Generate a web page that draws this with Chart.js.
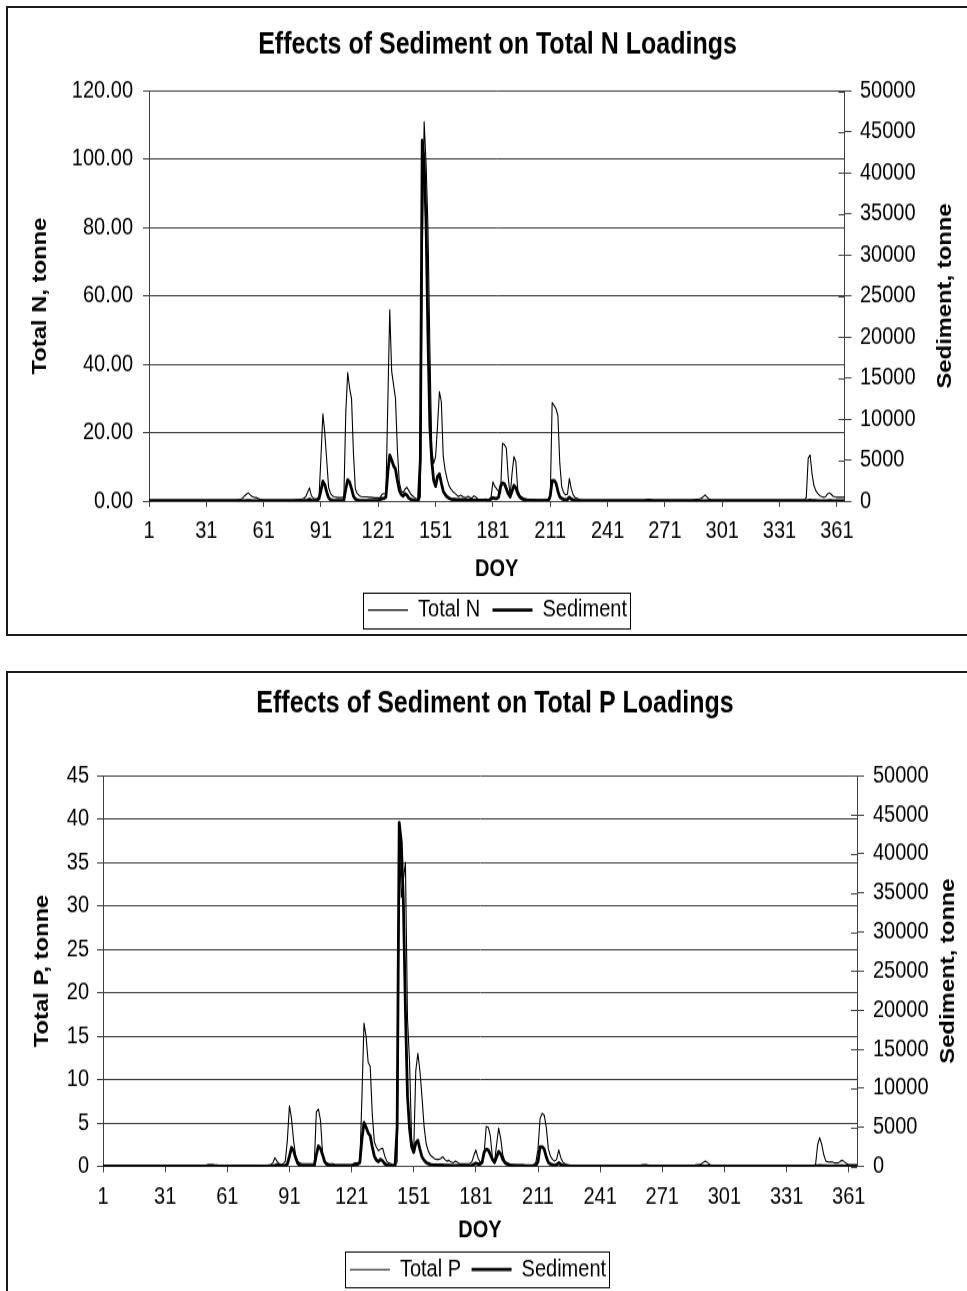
<!DOCTYPE html>
<html>
<head>
<meta charset="utf-8">
<title>Effects of Sediment on Total N and Total P Loadings</title>
<script src="https://cdn.jsdelivr.net/npm/chart.js@4.4.1/dist/chart.umd.min.js"></script>
<style>
  body { margin: 0; width: 967px; height: 1291px; overflow: hidden; background: #fff; position: relative; }
  .frame { position: absolute; left: 6px; width: 1000px; border: 2px solid #1a1a1a; }
  /* the source picture is stretched vertically, so the charts are too */
  .wrap { position: absolute; left: 0; width: 967px; transform: scaleY(1.19); transform-origin: 0 0; }
</style>
</head>
<body>
<div class="frame" style="top:6px;height:626px"></div>
<div class="frame" style="top:671px;height:700px"></div>
<div class="wrap" style="top:0;height:538px"><canvas id="chartN"></canvas></div>
<div class="wrap" style="top:660px;height:536px"><canvas id="chartP"></canvas></div>
<script>
// day of year, 1..365
const doy = [];
for (let d = 1; d <= 365; d++) doy.push(d);
const xTickDays = [1, 31, 61, 91, 121, 151, 181, 211, 241, 271, 301, 331, 361];

// Total N, tonne
const totalN = [
  0.3,0.3,0.3,0.3,0.3,0.3,0.3,0.3,0.3,0.3,      // 1-10
  0.3,0.3,0.3,0.3,0.3,0.3,0.3,0.3,0.3,0.3,      // 11-20
  0.3,0.3,0.3,0.3,0.3,0.3,0.3,0.3,0.3,0.3,      // 21-30
  0.3,0.3,0.3,0.3,0.3,0.3,0.3,0.3,0.3,0.3,      // 31-40
  0.3,0.3,0.3,0.3,0.3,0.3,0.3,0.4,0.5,0.8,      // 41-50
  1.5,2.0,2.4,1.8,1.3,1.1,1.0,0.8,0.5,0.4,      // 51-60
  0.3,0.3,0.3,0.3,0.3,0.3,0.3,0.3,0.3,0.3,      // 61-70
  0.3,0.3,0.3,0.3,0.3,0.3,0.3,0.4,0.4,0.5,      // 71-80
  0.6,0.8,1.2,2.5,3.8,1.5,0.8,0.6,0.8,1.2,      // 81-90
  13,25.5,20,12,4.0,2.2,1.5,1.2,1.1,1.0,        // 91-100
  1.0,1.0,1.2,26,37.6,33,30,14,3.5,2.2,         // 101-110
  1.6,1.3,1.2,1.2,1.2,1.1,1.1,1.0,0.9,0.9,      // 111-120
  0.9,1.0,2.0,2.2,2.2,29,56,38,34,30,           // 121-130
  15,5.5,3.0,2.5,3.5,4.0,3.0,2.0,1.5,1.0,       // 131-140
  0.6,0.5,1.0,70,111,99,80,45,15,11,            // 141-150
  13,22,32,29,13,9.0,6.5,4.5,3.5,2.8,           // 151-160
  2.3,1.8,1.3,1.7,1.4,1.0,1.0,1.4,1.0,0.8,      // 161-170
  1.5,1.2,0.6,0.5,0.5,0.4,0.6,0.4,0.4,1.0,      // 171-180
  5.6,4.3,3.5,2.8,2.3,16.9,16.5,15.5,7.0,1.5,   // 181-190
  8.0,13,11.5,3.2,1.8,1.2,0.8,0.6,0.5,0.4,      // 191-200
  0.4,0.4,0.4,0.3,0.3,0.3,0.3,0.4,0.4,0.5,      // 201-210
  0.6,28.8,28,27,25,11,4.2,2.5,1.8,2.0,         // 211-220
  6.6,3.6,1.8,1.0,0.8,0.5,0.4,0.3,0.3,0.3,      // 221-230
  0.3,0.3,0.3,0.3,0.3,0.3,0.3,0.3,0.3,0.3,      // 231-240
  0.3,0.3,0.3,0.3,0.3,0.3,0.3,0.3,0.3,0.3,      // 241-250
  0.3,0.3,0.3,0.3,0.3,0.3,0.3,0.3,0.3,0.3,      // 251-260
  0.4,0.5,0.5,0.4,0.3,0.3,0.3,0.3,0.3,0.3,      // 261-270
  0.3,0.3,0.3,0.3,0.3,0.3,0.3,0.3,0.3,0.3,      // 271-280
  0.3,0.3,0.3,0.3,0.3,0.4,0.4,0.5,0.6,0.8,      // 281-290
  1.2,1.8,1.2,0.6,0.4,0.3,0.3,0.3,0.3,0.3,      // 291-300
  0.3,0.3,0.3,0.3,0.3,0.3,0.3,0.3,0.3,0.3,      // 301-310
  0.3,0.3,0.3,0.3,0.3,0.3,0.3,0.3,0.3,0.3,      // 311-320
  0.3,0.3,0.3,0.3,0.3,0.3,0.3,0.3,0.3,0.3,      // 321-330
  0.3,0.3,0.3,0.3,0.3,0.3,0.3,0.3,0.3,0.3,      // 331-340
  0.3,0.3,0.3,0.4,1.0,12.5,13.5,8.0,4.5,3.0,    // 341-350
  2.2,1.6,1.3,1.1,1.2,2.0,2.4,2.0,1.4,1.2,      // 351-360
  1.1,1.1,1.1,1.1,1.1                           // 361-365
];

// Total P, tonne
const totalP = [
  0.05,0.05,0.05,0.05,0.05,0.05,0.05,0.05,0.05,0.05,  // 1-10
  0.05,0.05,0.05,0.05,0.05,0.05,0.05,0.05,0.05,0.05,  // 11-20
  0.05,0.05,0.05,0.05,0.05,0.05,0.05,0.05,0.05,0.05,  // 21-30
  0.05,0.05,0.05,0.05,0.05,0.05,0.05,0.05,0.05,0.05,  // 31-40
  0.05,0.05,0.05,0.05,0.05,0.05,0.05,0.05,0.1,0.1,    // 41-50
  0.15,0.2,0.2,0.2,0.15,0.15,0.1,0.1,0.05,0.05,       // 51-60
  0.05,0.05,0.05,0.05,0.05,0.05,0.05,0.05,0.05,0.05,  // 61-70
  0.05,0.05,0.05,0.05,0.05,0.05,0.05,0.1,0.1,0.1,     // 71-80
  0.15,0.2,0.4,1.0,0.6,0.3,0.2,0.3,0.6,3.0,           // 81-90
  7.0,5.5,3.0,1.2,0.6,0.4,0.3,0.3,0.3,0.3,            // 91-100
  0.3,0.3,0.3,6.3,6.6,5.3,1.5,0.6,0.4,0.3,            // 101-110
  0.3,0.3,0.2,0.2,0.2,0.2,0.2,0.2,0.2,0.2,            // 111-120
  0.2,0.3,0.4,0.4,0.4,8.0,16.5,15,12,11.5,            // 121-130
  6.0,2.8,2.2,1.8,2.0,2.1,1.2,0.6,0.4,0.3,            // 131-140
  0.2,0.2,0.5,38,31,33,35,17,12,3.0,                  // 141-150
  1.8,11,13,11,8.0,4.6,2.6,1.8,1.3,1.1,               // 151-160
  0.9,0.8,0.8,0.9,1.1,0.8,0.6,0.7,0.5,0.4,            // 161-170
  0.6,0.5,0.3,0.3,0.3,0.3,0.3,0.3,0.5,1.2,            // 171-180
  1.9,1.0,0.5,0.5,1.5,4.6,4.5,3.5,1.0,0.5,            // 181-190
  2.5,4.4,3.2,1.3,0.6,0.4,0.3,0.2,0.2,0.2,            // 191-200
  0.2,0.2,0.2,0.2,0.1,0.1,0.1,0.1,0.2,0.5,            // 201-210
  2.0,5.5,6.1,5.9,4.5,2.0,1.2,0.8,0.6,0.8,            // 211-220
  1.9,1.0,0.5,0.3,0.2,0.1,0.1,0.1,0.1,0.1,            // 221-230
  0.1,0.1,0.1,0.1,0.1,0.1,0.1,0.1,0.1,0.1,            // 231-240
  0.1,0.1,0.1,0.1,0.1,0.1,0.1,0.1,0.1,0.1,            // 241-250
  0.1,0.1,0.1,0.1,0.1,0.1,0.1,0.1,0.1,0.1,            // 251-260
  0.15,0.2,0.2,0.15,0.1,0.1,0.1,0.1,0.1,0.1,          // 261-270
  0.1,0.1,0.1,0.1,0.1,0.1,0.1,0.1,0.1,0.1,            // 271-280
  0.1,0.1,0.1,0.1,0.1,0.1,0.15,0.2,0.2,0.3,           // 281-290
  0.5,0.6,0.4,0.2,0.1,0.1,0.1,0.1,0.1,0.1,            // 291-300
  0.1,0.1,0.1,0.1,0.1,0.1,0.1,0.1,0.1,0.1,            // 301-310
  0.1,0.1,0.1,0.1,0.1,0.1,0.1,0.1,0.1,0.1,            // 311-320
  0.1,0.1,0.1,0.1,0.1,0.1,0.1,0.1,0.1,0.1,            // 321-330
  0.1,0.1,0.1,0.1,0.1,0.1,0.1,0.1,0.1,0.1,            // 331-340
  0.1,0.1,0.1,0.1,0.2,2.5,3.3,2.5,1.3,0.6,            // 341-350
  0.5,0.5,0.5,0.4,0.4,0.4,0.6,0.7,0.5,0.3,            // 351-360
  0.2,0.2,0.2,0.2,0.2                                 // 361-365
];

// Sediment, tonne (same series in both charts)
const sediment = [
  20,20,20,20,20,20,20,20,20,20,                      // 1-10
  20,20,20,20,20,20,20,20,20,20,                      // 11-20
  20,20,20,20,20,20,20,20,20,20,                      // 21-30
  20,20,20,20,20,20,20,20,20,20,                      // 31-40
  20,20,20,20,20,20,20,20,20,20,                      // 41-50
  30,40,50,40,30,30,20,20,20,20,                      // 51-60
  20,20,20,20,20,20,20,20,20,20,                      // 61-70
  20,20,20,20,20,20,20,20,25,25,                      // 71-80
  30,40,60,100,200,100,50,50,100,300,                 // 81-90
  1300,2400,2000,1100,400,150,80,60,50,50,            // 91-100
  50,60,100,1500,2600,2300,1500,600,250,120,          // 101-110
  80,60,50,50,50,40,40,40,40,40,                      // 111-120
  50,200,300,300,500,3500,5600,5000,4300,3900,        // 121-130
  2500,1300,800,600,900,700,350,200,120,80,           // 131-140
  60,100,5000,44000,41500,34000,20000,9000,4800,2500, // 141-150
  1800,3000,3300,2200,1200,800,500,350,250,200,       // 151-160
  180,160,150,150,150,130,120,120,110,100,            // 161-170
  100,100,90,80,80,70,70,70,100,250,                  // 171-180
  400,300,300,500,1800,2200,2100,1500,900,500,        // 181-190
  1200,1900,1600,900,500,300,200,150,100,80,          // 191-200
  70,60,60,50,50,50,50,50,60,100,                     // 201-210
  600,2500,2500,2200,1200,500,300,200,150,200,        // 211-220
  450,250,120,80,50,40,30,30,30,30,                   // 221-230
  20,20,20,20,20,20,20,20,20,20,                      // 231-240
  20,20,20,20,20,20,20,20,20,20,                      // 241-250
  20,20,20,20,20,20,20,20,20,20,                      // 251-260
  20,20,20,20,20,20,20,20,20,20,                      // 261-270
  20,20,20,20,20,20,20,20,20,20,                      // 271-280
  20,20,20,20,20,20,20,20,20,20,                      // 281-290
  20,20,20,20,20,20,20,20,20,20,                      // 291-300
  20,20,20,20,20,20,20,20,20,20,                      // 301-310
  20,20,20,20,20,20,20,20,20,20,                      // 311-320
  20,20,20,20,20,20,20,20,20,20,                      // 321-330
  20,20,20,20,20,20,20,20,20,20,                      // 331-340
  20,20,20,20,30,60,80,60,50,40,                      // 341-350
  30,30,30,30,30,30,40,40,30,30,                      // 351-360
  20,20,20,20,20                                      // 361-365
];

[['totalN', totalN], ['totalP', totalP], ['sediment', sediment]].forEach(([n, a]) => {
  if (a.length !== 365) throw new Error(n + ' has ' + a.length + ' values');
});

const FONT = '"Liberation Sans", Arial, sans-serif';
const AXIS = '#404040';
const GRID = '#383838';
Chart.defaults.font.family = FONT;
Chart.defaults.color = '#000';

// title / legend nudges, inner half of the right-axis ticks,
// right title read bottom-to-top, frame round the legend
const extras = {
  id: 'extras',
  afterUpdate(chart, args, o) {
    if (o.titleShift) {
      chart.titleBlock.left += o.titleShift;
      chart.titleBlock.right += o.titleShift;
    }
    if (o.legendShift) {
      const lg = chart.legend;
      lg.left += o.legendShift;
      lg.right += o.legendShift;
      lg.legendHitBoxes.forEach(h => { h.left += o.legendShift; });
    }
  },
  afterDraw(chart, args, o) {
    const ctx = chart.ctx;
    const area = chart.chartArea;
    const y1 = chart.scales.y1;
    ctx.save();
    ctx.strokeStyle = AXIS;
    ctx.lineWidth = 1;
    ctx.beginPath();
    y1.ticks.forEach((t, i) => {
      const py = Math.round(y1.getPixelForTick(i)) + 0.5;
      ctx.moveTo(area.right - 6, py);
      ctx.lineTo(area.right, py);
    });
    ctx.stroke();

    const boxes = chart.legend.legendHitBoxes;
    const first = boxes[0], last = boxes[boxes.length - 1];
    ctx.strokeStyle = '#000';
    ctx.strokeRect(Math.round(first.left - 5) + 0.5, Math.round(first.top - 5) + 0.5,
      Math.round(last.left + last.width - first.left + 8), Math.round(first.height + 10));

    ctx.translate(o.rightTitleX, (area.top + area.bottom) / 2);
    ctx.rotate(-Math.PI / 2);
    ctx.font = 'bold 20px ' + FONT;
    ctx.fillStyle = '#000';
    ctx.textAlign = 'center';
    ctx.textBaseline = 'middle';
    ctx.fillText(o.rightTitle, 0, 0);
    ctx.restore();
  }
};

function loadingChart(canvasId, s) {
  return new Chart(document.getElementById(canvasId), {
    type: 'line',
    data: {
      labels: doy,
      datasets: [
        { label: s.label, data: s.values, yAxisID: 'y', borderColor: '#000', borderWidth: 1.1,
          pointRadius: 0, tension: 0, borderJoinStyle: 'round', order: 1 },
        { label: 'Sediment', data: sediment, yAxisID: 'y1', borderColor: '#000', borderWidth: 2.8,
          pointRadius: 0, tension: 0, borderJoinStyle: 'round', order: 0 }
      ]
    },
    options: {
      responsive: true,
      maintainAspectRatio: false,
      animation: false,
      events: [],
      layout: { padding: { left: s.padLeft, right: 0, top: 0, bottom: s.padBottom } },
      scales: {
        x: {
          type: 'category',
          offset: false,
          afterBuildTicks: axis => { axis.ticks = axis.ticks.filter(t => xTickDays.includes(doy[t.value])); },
          ticks: { autoSkip: false, maxRotation: 0, padding: s.xLabelPad, font: { size: 20 } },
          grid: { drawOnChartArea: false, tickLength: 5, color: AXIS },
          border: { color: AXIS },
          title: { display: true, text: 'DOY', font: { size: 20, weight: 'bold' },
                   padding: { top: s.doyPad, bottom: 0 } }
        },
        y: {
          position: 'left',
          min: 0, max: s.max,
          afterFit: axis => { axis.width = s.leftWidth; },
          ticks: { stepSize: s.step, padding: s.leftLabelPad, font: { size: 20 }, callback: s.fmt },
          grid: { color: GRID, tickLength: 6 },
          border: { color: AXIS },
          title: { display: true, text: s.leftTitle, font: { size: 20, weight: 'bold' },
                   padding: { top: 0, bottom: 0 } }
        },
        y1: {
          position: 'right',
          min: 0, max: 50000,
          afterFit: axis => { axis.width = s.rightWidth; },
          ticks: { stepSize: 5000, padding: s.rightLabelPad, font: { size: 20 }, callback: v => String(v) },
          grid: { drawOnChartArea: false, tickLength: 7, color: AXIS },
          border: { color: AXIS }
        }
      },
      plugins: {
        title: { display: true, text: s.title, font: { size: 25, weight: 'bold' }, color: '#000',
                 padding: { top: s.titleTop, bottom: s.titleBottom } },
        legend: {
          position: 'bottom',
          labels: {
            usePointStyle: true, pointStyle: 'line', pointStyleWidth: 40, boxWidth: 40,
            padding: s.legendPad, font: { size: 20 }, color: '#000',
            sort: (a, b) => a.datasetIndex - b.datasetIndex
          }
        },
        tooltip: { enabled: false },
        extras: { rightTitle: 'Sediment, tonne', rightTitleX: s.rightTitleX,
                  titleShift: s.titleShift, legendShift: s.legendShift }
      }
    },
    plugins: [extras]
  });
}

loadingChart('chartN', {
  title: 'Effects of Sediment on Total N Loadings',
  label: 'Total N', values: totalN,
  leftTitle: 'Total N, tonne', max: 120, step: 20, fmt: v => v.toFixed(2),
  padLeft: 28, padBottom: 5.4,
  leftWidth: 121, rightWidth: 122.5, leftLabelPad: 10, rightLabelPad: 8.5,
  titleTop: 22.8, titleBottom: 23.7, xLabelPad: 8.2, doyPad: 0, legendPad: 12.2,
  rightTitleX: 945, titleShift: 0, legendShift: 0
});

loadingChart('chartP', {
  title: 'Effects of Sediment on Total P Loadings',
  label: 'Total P', values: totalP,
  leftTitle: 'Total P, tonne', max: 45, step: 5, fmt: v => String(v),
  padLeft: 30, padBottom: 3.8,
  leftWidth: 73, rightWidth: 110, leftLabelPad: 8, rightLabelPad: 9,
  titleTop: 22, titleBottom: 45.2, xLabelPad: 8.6, doyPad: -4, legendPad: 10.5,
  rightTitleX: 948, titleShift: -3.5, legendShift: -20.5
});
</script>
</body>
</html>
